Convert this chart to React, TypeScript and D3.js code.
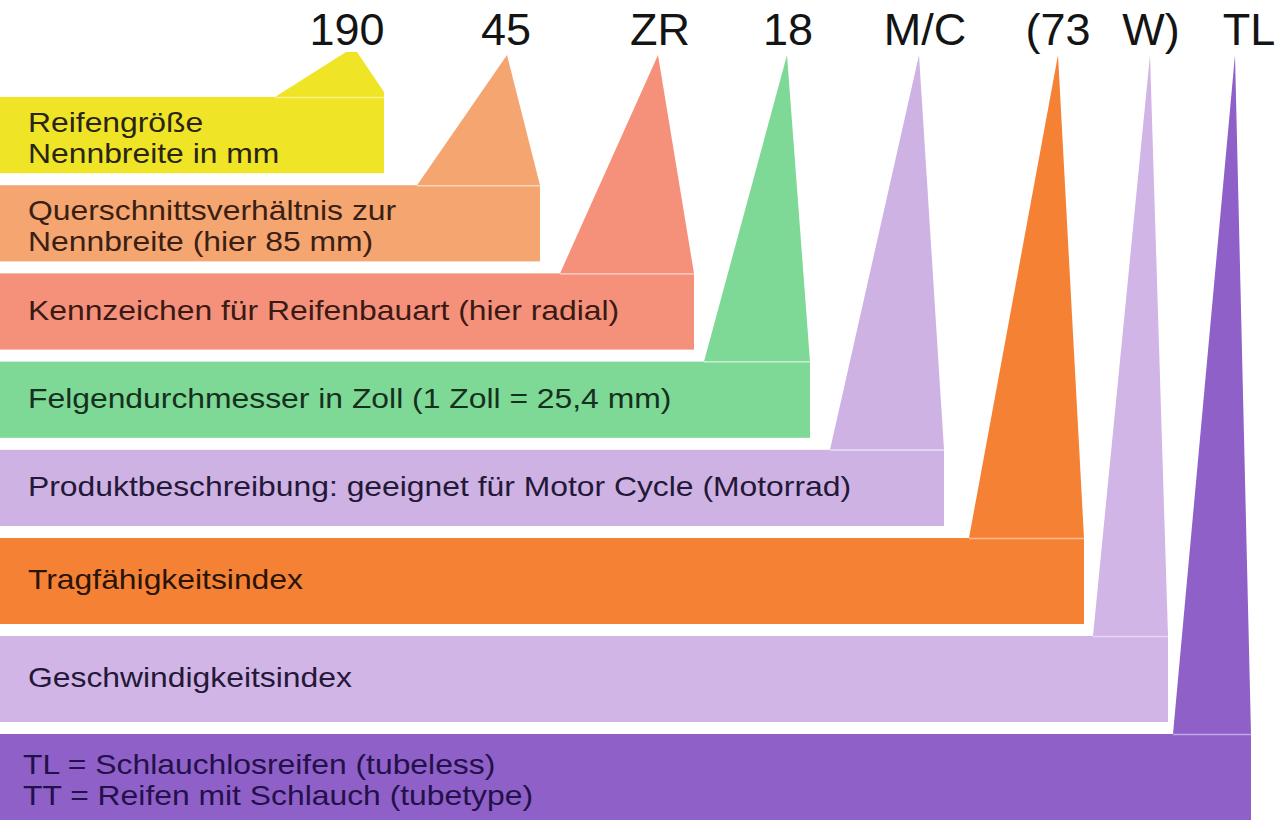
import React, { useEffect, useRef } from 'react';
import * as d3 from 'd3';

// tyre code parts shown on top
const codes = ['190', '45', 'ZR', '18', 'M/C', '(73', 'W)', 'TL'];
const codeCenters = [347, 506, 660, 788, 925, 1058, 1151, 1249];

// explanation of each part (one row per part)
const descriptions = [
  ['Reifengröße', 'Nennbreite in mm'],
  ['Querschnittsverhältnis zur', 'Nennbreite (hier 85 mm)'],
  ['Kennzeichen für Reifenbauart (hier radial)'],
  ['Felgendurchmesser in Zoll (1 Zoll = 25,4 mm)'],
  ['Produktbeschreibung: geeignet für Motor Cycle (Motorrad)'],
  ['Tragfähigkeitsindex'],
  ['Geschwindigkeitsindex'],
  ['TL = Schlauchlosreifen (tubeless)', 'TT = Reifen mit Schlauch (tubetype)'],
];

// horizontal extent of each bar and of the pointer rising from it
const barEnds = [384, 540, 694, 810, 944, 1084, 1168, 1251];
const pointerStarts = [275, 417, 560, 704, 830, 969, 1093, 1173];
const apexLeft = [346, 507, 658, 787, 919, 1058, 1150, 1235];
const apexRight = [357, 507, 658, 787, 919, 1058, 1150, 1235];

const colors = ['#efe526', '#f5a570', '#f5917b', '#7fd996', '#ceb2e4', '#f58234', '#d1b5e6', '#8e60c8'];
const textColors = ['#2a2418', '#3a2014', '#3a1a14', '#16301e', '#241838', '#2a140a', '#241838', '#24104a'];

function App() {
  const ref = useRef<SVGSVGElement>(null);

  useEffect(() => {
    const width = 1280;
    const height = 826;
    const svg = d3.select(ref.current);
    svg.selectAll('*').remove();

    const x = d3.scaleLinear().domain([0, 1280]).range([0, width]);
    // first five rows are a bit narrower than the last three
    const y = d3.scaleLinear().domain([0, 5, 8]).range([97, 538, 832]);
    const gap = 12;

    const rows = descriptions.map((lines, i) => ({
      i,
      lines,
      top: y(i),
      bottom: y(i + 1) - gap,
      end: barEnds[i],
      start: pointerStarts[i],
      a1: apexLeft[i],
      a2: apexRight[i],
      color: colors[i],
      textColor: textColors[i],
    }));

    const apexY = 55;

    // pointers
    svg.append('g')
      .selectAll('path')
      .data(rows)
      .enter()
      .append('path')
        .attr('d', (d) => {
          const p = d3.path();
          p.moveTo(x(d.start), d.top);
          p.lineTo(x(d.a1), apexY - (d.i === 0 ? 3 : 0));
          p.lineTo(x(d.a2), apexY - (d.i === 0 ? 3 : 0));
          if (d.i === 0) p.lineTo(x(d.end), d.top - 5);
          p.lineTo(x(d.end), d.top);
          p.closePath();
          return p.toString();
        })
        .attr('fill', (d) => d.color);

    // bars
    svg.append('g')
      .selectAll('rect')
      .data(rows)
      .enter()
      .append('rect')
        .attr('x', x(0))
        .attr('y', (d) => d.top)
        .attr('width', (d) => x(d.end) - x(0))
        .attr('height', (d) => d.bottom - d.top)
        .attr('fill', (d) => d.color);

    // thin light seam between pointer and bar
    svg.append('g')
      .selectAll('line')
      .data(rows)
      .enter()
      .append('line')
        .attr('x1', (d) => x(d.start))
        .attr('x2', (d) => x(d.end))
        .attr('y1', (d) => d.top + 0.5)
        .attr('y2', (d) => d.top + 0.5)
        .attr('stroke', 'white')
        .attr('stroke-opacity', 0.45)
        .attr('stroke-width', 1.5);

    // bar texts
    const labels = svg.append('g')
      .selectAll('g')
      .data(rows)
      .enter()
      .append('g')
        .attr('transform', (d) => {
          const mid = (d.top + d.bottom) / 2;
          const first = d.lines.length > 1 ? mid - 3 : mid + 8;
          return `translate(${d.i === 7 ? 23 : 28}, ${first}) scale(1.18, 1)`;
        });

    labels.selectAll('text')
      .data((d) => d.lines.map((t, k) => ({ t, k, c: d.textColor })))
      .enter()
      .append('text')
        .attr('y', (d) => d.k * 31)
        .text((d) => d.t)
        .style('font-family', 'Liberation Sans, Arial, sans-serif')
        .style('font-size', '27px')
        .style('fill', (d) => d.c);

    // code labels on top
    svg.append('g')
      .selectAll('text')
      .data(codes)
      .enter()
      .append('text')
        .attr('x', (d, i) => x(codeCenters[i]))
        .attr('y', 45)
        .text((d) => d)
        .style('font-family', 'Liberation Sans, Arial, sans-serif')
        .style('font-size', '45px')
        .style('text-anchor', 'middle')
        .style('fill', '#141414');

    svg.attr('width', width).attr('height', height);
  });

  return (
    <svg
      ref={ref}
      width={1280}
      height={826}
      style={{ position: 'absolute', left: 0, top: 0, background: 'white' }}
    />
  );
}

export default App;
